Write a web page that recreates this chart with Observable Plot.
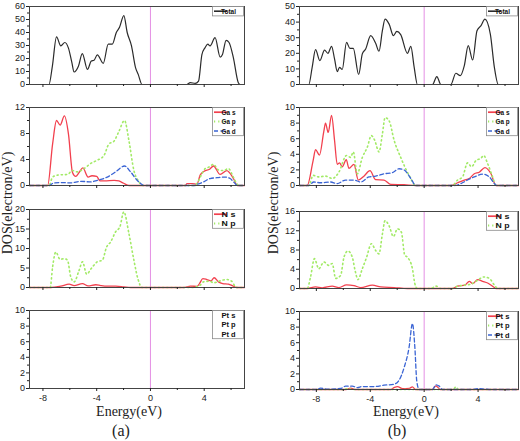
<!DOCTYPE html>
<html><head><meta charset="utf-8">
<script src="https://cdn.jsdelivr.net/npm/d3@7"></script>
<script src="https://cdn.jsdelivr.net/npm/@observablehq/plot@0.6"></script>
<style>
body{margin:0;background:#fff}
#wrap{position:relative;width:520px;height:441px;overflow:hidden;background:#fff}
#wrap > svg, #wrap > div{position:absolute}
.lbl{font-family:"Liberation Serif","Times New Roman",serif;color:#222;white-space:nowrap;line-height:1}
</style></head><body><div id="wrap"></div>
<script>
// ---------- data: [energy (eV), DOS] ----------
const totalA = [[-9,0],[-7.55,0],[-7.3,14],[-6.99,36.7],[-6.67,29.7],[-6.37,32.3],[-6.1,28],[-5.85,17],[-5.68,9.6],[-5.36,14],[-5.07,23.8],[-4.69,11.6],[-4.4,18],[-4.2,18.6],[-3.95,22.8],[-3.51,16.3],[-3.14,31],[-2.84,31],[-2.54,40],[-2.3,44],[-1.98,53],[-1.73,40],[-1.41,29.7],[-1.11,13],[-0.91,7.8],[-0.62,0],[2.72,0],[2.96,1.5],[3.33,0.8],[3.58,2.6],[3.83,23],[4.07,28.4],[4.27,31],[4.44,29.7],[4.81,36],[5.19,21],[5.36,23],[5.63,34],[5.85,32.3],[6.17,20.7],[6.54,1.3],[6.67,0],[7,0]];
const gaSA = [[-9,0],[-7.65,0],[-7.28,6.4],[-6.99,10],[-6.72,9.3],[-6.4,10.7],[-6.1,7.9],[-5.8,2],[-5.56,1.4],[-5.31,2],[-5.03,2.7],[-4.64,1.3],[-4.35,1.5],[-4.0,1.4],[-3.75,0.7],[-3.4,0.7],[-2.7,0.8],[-2.35,0.7],[-2.0,0.35],[-1.6,0],[2.6,0],[2.72,0.3],[3.1,0.3],[3.46,0.2],[3.7,1.6],[4.0,2.2],[4.4,2.5],[4.69,3.0],[5.19,1.7],[5.68,2.3],[6.17,1.1],[6.47,0],[7,0]];
const gaPA = [[-9,0],[-7.55,0],[-7.28,1.3],[-6.91,1.6],[-6.17,1.7],[-5.8,2.3],[-5.43,2.1],[-4.94,2.6],[-4.44,3.4],[-3.95,3.9],[-3.46,4.6],[-3.09,6.4],[-2.72,6.8],[-2.35,8.3],[-1.93,10],[-1.6,6.9],[-1.23,2.3],[-0.86,0.6],[-0.62,0],[3.2,0],[3.46,0.3],[3.83,1.8],[4.07,2.6],[4.32,2.8],[4.69,3.25],[5.06,2.4],[5.43,2.3],[5.8,2.6],[6.17,1.3],[6.42,0.3],[6.6,0],[7,0]];
const gaDA = [[-9,0],[-7.5,0],[-7.4,0.15],[-7.16,0.4],[-6.54,0.45],[-5.93,0.4],[-5.19,0.65],[-4.44,0.55],[-3.95,0.8],[-3.21,1.3],[-2.59,2.1],[-1.93,3.0],[-1.48,2.1],[-0.99,0.8],[-0.62,0.15],[-0.5,0],[3.3,0],[3.46,0.15],[3.95,0.55],[4.44,1.07],[4.94,1.2],[5.56,1.3],[5.93,1.07],[6.3,0.3],[6.47,0],[7,0]];
const nSA = [[-9,0],[-7.4,0],[-6.67,0.35],[-6.05,0.85],[-5.68,0.5],[-5.06,1.0],[-4.64,0.43],[-4.07,0.7],[-3.7,0.5],[-3.21,0.35],[-2.59,0.35],[-1.98,0.17],[-1.48,0],[2.5,0],[2.72,0.17],[2.96,0.35],[3.46,0.3],[3.65,1.0],[3.9,2.3],[4.2,2.05],[4.5,1.7],[4.74,2.5],[5.06,1.45],[5.38,1.0],[5.8,0.85],[6.17,0.35],[6.42,0],[7,0]];
const nPA = [[-9,0],[-7.46,0],[-7.28,5.3],[-7.04,9.1],[-6.72,7.2],[-6.42,7.4],[-6.17,7.0],[-5.93,2.7],[-5.68,1.45],[-5.31,4.4],[-5.06,6.6],[-4.74,3.4],[-4.4,4.9],[-3.95,6.6],[-3.58,7.0],[-3.26,10.4],[-2.96,11.7],[-2.59,14.3],[-2.27,15.6],[-1.98,19.4],[-1.6,13.8],[-1.23,7.0],[-0.94,2.3],[-0.62,0],[3.09,0],[3.7,0.6],[3.95,1.45],[4.44,1.6],[4.69,1.2],[5.19,1.7],[5.68,2.05],[6.05,1.6],[6.3,0.3],[6.45,0],[7,0]];
const ptSA = [[-9,0],[7,0]];
const ptPA = [[-9,0],[7,0]];
const ptDA = [[-9,0],[7,0]];

const totalB = [[-9.25,0],[-8.56,0],[-8.31,11],[-8.06,22.3],[-7.74,15.3],[-7.39,22],[-7.14,20],[-6.87,24.5],[-6.65,16.4],[-6.45,8.3],[-6.28,11],[-6.08,9.6],[-5.76,27],[-5.51,23.2],[-5.26,23.2],[-4.86,6.4],[-4.59,19.6],[-4.34,22.8],[-3.97,31.3],[-3.6,26.4],[-3.35,21.3],[-3.1,34.5],[-2.9,41.9],[-2.6,38.7],[-2.28,31.3],[-2.03,34],[-1.74,32],[-1.24,20],[-0.99,24.5],[-0.74,11],[-0.5,0],[0.62,0],[0.94,5.1],[1.24,0],[1.98,0],[2.35,7.2],[2.68,5.7],[2.98,12.1],[3.27,24.9],[3.6,15.7],[3.92,34.5],[4.22,37.7],[4.51,41.9],[4.91,32.3],[5.21,11],[5.5,0],[7,0]];
const gaSB = [[-9.25,0],[-8.68,0],[-8.24,3.2],[-8.06,4.6],[-7.77,3.9],[-7.44,7.0],[-7.32,8.0],[-7.12,6.8],[-6.87,9.0],[-6.65,5.8],[-6.45,2.7],[-6.28,2.9],[-6.08,2.4],[-5.78,3.3],[-5.58,2.2],[-5.21,2.7],[-4.89,0.7],[-4.47,1.2],[-4.02,1.9],[-3.6,0.75],[-2.98,0.7],[-2.48,0.15],[-1.49,0.1],[-0.6,0],[1.98,0],[2.48,0.35],[2.98,0.7],[3.35,0.9],[3.72,1.5],[4.09,1.7],[4.51,2.3],[4.96,1.5],[5.33,0],[7,0]];
const gaPB = [[-9.25,0],[-8.56,0],[-8.24,1.3],[-7.82,1.1],[-7.32,1.2],[-6.82,0.9],[-6.33,1.7],[-5.76,3.85],[-5.46,3.6],[-5.26,4.3],[-4.96,1.5],[-4.59,3.6],[-4.22,4.9],[-3.92,6.4],[-3.67,5.8],[-3.35,4.3],[-3.1,6.6],[-2.9,8.7],[-2.6,8.3],[-2.23,5.8],[-1.74,3.6],[-1.12,1.3],[-0.62,0],[2.1,0],[2.48,0.7],[2.85,1.1],[3.22,2.9],[3.52,2.4],[3.84,3.2],[4.22,3.5],[4.41,3.85],[4.71,2.8],[5.08,1.1],[5.33,0],[7,0]];
const gaDB = [[-9.25,0],[-8.56,0],[-8.19,0.45],[-7.69,0.35],[-6.95,0.45],[-6.45,0.25],[-5.83,0.7],[-5.21,0.7],[-4.71,0.45],[-4.09,1.1],[-3.6,1.2],[-2.98,1.5],[-2.36,1.65],[-1.86,2.15],[-1.49,2.0],[-0.99,0.9],[-0.62,0],[2.23,0],[2.73,0.25],[3.22,0.7],[3.72,1.1],[4.34,1.45],[4.84,1.1],[5.21,0.25],[5.4,0],[7,0]];
const nSB = [[-9.25,0],[-8.68,0],[-8.06,0.35],[-7.57,0.15],[-6.82,0.5],[-6.33,0.2],[-5.76,0.75],[-5.21,0.6],[-4.71,0.2],[-3.84,0.7],[-3.23,0.35],[-2.23,0.2],[-1.24,0],[2.1,0],[2.48,0.5],[3.03,0.7],[3.35,1.5],[3.6,1.0],[3.97,1.85],[4.34,1.5],[4.71,1.15],[5.21,0.2],[5.33,0],[7,0]];
const nPB = [[-9.25,0],[-8.68,0],[-8.43,2.4],[-8.14,6.2],[-7.82,4.1],[-7.44,5.5],[-7.07,4.8],[-6.82,5.2],[-6.57,2.1],[-6.2,2.7],[-5.95,6.5],[-5.66,7.8],[-5.33,6.5],[-5.13,3.8],[-4.91,1.85],[-4.59,4.1],[-4.27,6.5],[-3.92,9.3],[-3.6,7.9],[-3.35,7.2],[-3.1,11.3],[-2.9,14.1],[-2.6,13],[-2.28,10.8],[-1.98,12.4],[-1.69,11.7],[-1.44,6.9],[-1.24,6.5],[-0.87,4.1],[-0.69,1.0],[-0.5,0],[0.5,0],[0.87,0.5],[1.24,0],[2.1,0],[2.48,0.5],[2.98,0.7],[3.47,0.9],[3.97,1.7],[4.41,2.4],[4.84,2.1],[5.21,0.7],[5.46,0],[7,0]];
const ptSB = [[-9.25,0],[-5.8,0],[-5.46,0.17],[-5.1,0],[-2.5,0],[-2.23,0.25],[-1.98,0.38],[-1.6,0.1],[-1.1,0.15],[-0.87,0.34],[-0.65,0],[0.6,0],[0.87,0.47],[1.2,0],[7,0]];
const ptPB = [[-9.25,0],[-6,0],[-5.7,0.1],[-5.3,0],[2.15,0],[2.35,0.34],[2.55,0],[7,0]];
const ptDB = [[-9.25,0],[-8.0,0],[-7.69,0.17],[-7.2,0.05],[-6.2,0.13],[-5.83,0.43],[-5.33,0.43],[-4.96,0.25],[-4.59,0.38],[-3.72,0.38],[-2.98,0.55],[-2.23,0.68],[-1.86,1.2],[-1.49,2.8],[-1.12,5.4],[-0.87,8.45],[-0.69,5.4],[-0.55,1.1],[-0.37,0],[0.62,0],[0.87,0.6],[1.12,0.43],[1.36,0],[3.5,0],[4.0,0.1],[4.5,0.05],[5.0,0],[7,0]];

// ---------- tick values ----------
const xTicks = [-8, -4, 0, 4];
const xMinorTicks = [-6, -2, 2, 6];
const yTicksTotalA = [0, 10, 20, 30, 40, 50, 60];
const yTicksGaA = [0, 4, 8, 12];
const yTicksNA = [0, 5, 10, 15, 20];
const yTicksPtA = [0, 2, 4, 6, 8, 10];
const yTicksTotalB = [0, 10, 20, 30, 40, 50];
const yTicksGaB = [0, 2, 4, 6, 8, 10];
const yTicksNB = [0, 4, 8, 12, 16];
const yTicksPtB = [0, 2, 4, 6, 8, 10];

const seriesNamesTotal = ["Total"];
const seriesNamesGa = ["Ga s", "Ga p", "Ga d"];
const seriesNamesN = ["N s", "N p"];
const seriesNamesPt = ["Pt s", "Pt p", "Pt d"];

// ---------- styles ----------
const STY = {
  total: {stroke: "#2b2b2b", strokeWidth: 1.2},
  s: {stroke: "#f2404e", strokeWidth: 1.3},
  p: {stroke: "#a2ea66", strokeWidth: 1.6, strokeDasharray: "1.2,3"},
  d: {stroke: "#3a64d4", strokeWidth: 1.3, strokeDasharray: "4,2.5"}
};

const cols = [
  {left: 0, domain: [-9, 7], width: 247, ml: 29, mr: 3},
  {left: 270, domain: [-9.25, 7], width: 250, ml: 29, mr: 2}
];

const panels = [
  {col: 0, top: 6, bottom: 84, ticks: yTicksTotalA, names: seriesNamesTotal, data: [totalA], sty: ["total"], samples: true},
  {col: 0, top: 107, bottom: 185, ticks: yTicksGaA, names: seriesNamesGa, data: [gaSA, gaPA, gaDA], sty: ["s","p","d"], samples: true},
  {col: 0, top: 209, bottom: 287, ticks: yTicksNA, names: seriesNamesN, data: [nSA, nPA], sty: ["s","p"], samples: true},
  {col: 0, top: 310, bottom: 388, ticks: yTicksPtA, names: seriesNamesPt, data: [ptSA, ptPA, ptDA], sty: ["s","p","d"], samples: false, last: true},
  {col: 1, top: 6, bottom: 84, ticks: yTicksTotalB, names: seriesNamesTotal, data: [totalB], sty: ["total"], samples: true},
  {col: 1, top: 107, bottom: 185, ticks: yTicksGaB, names: seriesNamesGa, data: [gaSB, gaPB, gaDB], sty: ["s","p","d"], samples: true},
  {col: 1, top: 211, bottom: 288, ticks: yTicksNB, names: seriesNamesN, data: [nSB, nPB], sty: ["s","p"], samples: true},
  {col: 1, top: 311, bottom: 389, ticks: yTicksPtB, names: seriesNamesPt, data: [ptSB, ptPB, ptDB], sty: ["s","p","d"], samples: true, last: true}
];

const wrap = document.getElementById("wrap");

function minorOf(ticks) {
  const out = [];
  for (let i = 0; i < ticks.length - 1; i++) out.push((ticks[i] + ticks[i+1]) / 2);
  return out;
}

panels.forEach(p => {
  const c = cols[p.col];
  const mt = 6, mb = p.last ? 24 : 12;
  const height = (p.bottom - p.top) + mt + mb;
  const yMax = p.ticks[p.ticks.length - 1];
  const marks = [
    Plot.ruleX([0], {stroke: "#e48fe4", strokeWidth: 1}),
    ...p.data.map((d, i) => {
      const s = STY[p.sty[i]];
      if (!p.samples && p.data.length > 1) return Plot.line(d, {x: v => v[0], y: v => v[1], stroke: "none"});
      return Plot.line(d, {x: v => v[0], y: v => v[1], curve: "monotone-x", ...s});
    }),
    Plot.frame({stroke: "#444", strokeWidth: 1}),
    Plot.axisX(xTicks, {tickSize: 3, tickPadding: 3, fontSize: 9, label: null, tickFormat: p.last ? (d => d) : (() => "")}),
    Plot.axisX(xMinorTicks, {tickSize: 2, label: null, tickFormat: () => ""}),
    Plot.axisY(p.ticks, {tickSize: 3, tickPadding: 1.5, fontSize: 9, label: null}),
    Plot.axisY(minorOf(p.ticks), {tickSize: 2, label: null, tickFormat: () => ""})
  ];
  const svg = Plot.plot({
    width: c.width, height,
    marginLeft: c.ml, marginRight: c.mr, marginTop: mt, marginBottom: mb,
    x: {domain: c.domain},
    y: {domain: [0, yMax]},
    style: {background: "transparent", overflow: "visible", fontFamily: "'Liberation Sans', Arial, sans-serif", color: "#222"},
    marks
  });
  svg.style.left = c.left + "px";
  svg.style.top = (p.top - mt) + "px";
  wrap.appendChild(svg);

  // legend box (top-right inside frame)
  const fr = c.width - c.mr, ft = mt;
  const w = 31, rowH = 9.4, h = p.names.length * rowH;
  const g = d3.select(svg).append("g");
  g.append("rect").attr("x", fr - w - 0.5).attr("y", ft + 0.5).attr("width", w).attr("height", h)
    .attr("fill", "white").attr("stroke", "#8a8a8a").attr("stroke-width", 0.8);
  p.names.forEach((name, i) => {
    const cy = ft + 0.5 + rowH / 2 + i * rowH;
    const s = STY[p.sty[i]];
    if (p.samples) {
      g.append("line").attr("x1", fr - w + 1).attr("x2", fr - w + 14).attr("y1", cy).attr("y2", cy)
        .attr("stroke", s.stroke).attr("stroke-width", s.strokeWidth + 0.4)
        .attr("stroke-dasharray", s.strokeDasharray || null);
    }
    g.append("text").attr("x", fr - w + 15.5).attr("y", cy).attr("dy", "0.36em")
      .attr("font-size", 7.5).attr("font-weight", "bold").attr("fill", "#111")
      .attr("textLength", name.length > 4 ? 15 : 14).attr("lengthAdjust", "spacingAndGlyphs")
      .text(name);
  });
});

// axis titles and panel letters
function label(text, x, y, size, rotate) {
  const d = document.createElement("div");
  d.className = "lbl";
  d.textContent = text;
  d.style.left = x + "px";
  d.style.top = y + "px";
  d.style.fontSize = size + "px";
  d.style.transform = "translate(-50%,-50%)" + (rotate ? " rotate(-90deg)" : "");
  wrap.appendChild(d);
}
label("DOS(electron/eV)", 8, 203, 14, true);
label("DOS(electron/eV)", 274, 203, 14, true);
label("Energy(eV)", 129, 412, 14, false);
label("Energy(eV)", 406, 412, 14, false);
label("(a)", 121, 431, 16, false);
label("(b)", 397, 431, 16, false);
</script>
</body></html>
